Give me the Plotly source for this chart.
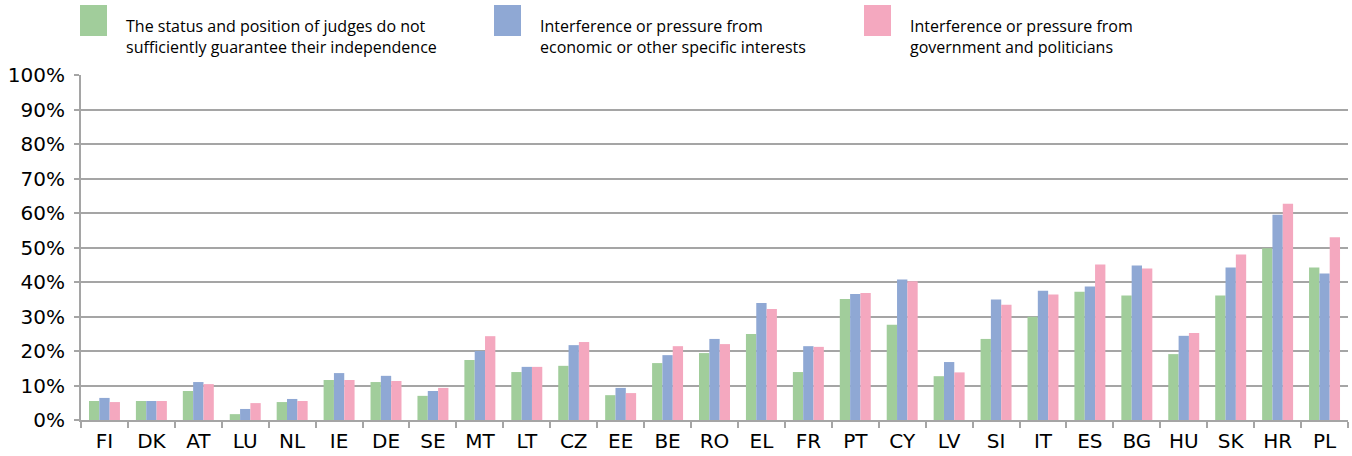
import plotly.graph_objects as go

countries = ["FI","DK","AT","LU","NL","IE","DE","SE","MT","LT","CZ","EE","BE","RO","EL","FR","PT","CY","LV","SI","IT","ES","BG","HU","SK","HR","PL"]
status_judges = [5.5,5.5,8.4,1.7,5.2,11.6,11.0,7.0,17.4,13.9,15.7,7.2,16.5,19.4,24.9,13.9,35.1,27.6,12.7,23.5,29.9,37.2,36.1,19.1,36.1,49.8,44.2]
economic = [6.4,5.5,11.0,3.2,6.1,13.6,12.8,8.4,20.0,15.4,21.7,9.3,18.8,23.5,33.9,21.4,36.5,40.7,16.8,34.9,37.5,38.7,44.8,24.4,44.2,59.5,42.5]
government = [5.2,5.5,10.4,4.9,5.5,11.6,11.3,9.3,24.3,15.4,22.6,7.8,21.4,22.0,32.2,21.2,36.8,40.2,13.8,33.4,36.4,45.1,43.9,25.2,48.0,62.7,53.0]
series_names = [
    "The status and position of judges do not<br>sufficiently guarantee their independence",
    "Interference or pressure from<br>economic or other specific interests",
    "Interference or pressure from<br>government and politicians",
]
colors = ["#A1CD9B", "#8FA8D4", "#F4A8BF"]

fig = go.Figure()
for name, vals, col in zip(series_names, [status_judges, economic, government], colors):
    fig.add_trace(go.Bar(x=countries, y=[v/100 for v in vals], name=name, marker=dict(color=col, line=dict(width=0)), showlegend=False))

# legend drawn manually
leg_x = [80, 494, 864]
L, R, T, B = 81, 1348, 75, 420
for xpx, name, col in zip(leg_x, series_names, colors):
    fig.add_shape(type="rect", xref="paper", yref="paper",
                  x0=(xpx-L)/(R-L), x1=(xpx+27-L)/(R-L),
                  y0=(B-36)/(B-T), y1=(B-5)/(B-T),
                  fillcolor=col, line=dict(width=0))
    fig.add_annotation(xref="paper", yref="paper", x=(xpx+44-L)/(R-L), y=(B-13)/(B-T),
                       xanchor="left", yanchor="top", text=name, showarrow=False, align="left",
                       font=dict(family="Open Sans", size=16, color="#000000"))

fig.update_layout(
    width=1352, height=456,
    margin=dict(l=L, r=1352-R, t=T, b=456-B),
    paper_bgcolor="white", plot_bgcolor="white",
    barmode="group", bargap=0.34, bargroupgap=0,
    font=dict(family="DejaVu Sans", color="#000000"),
)
fig.update_yaxes(range=[0, 1], tickformat=".0%", dtick=0.1, showgrid=True, gridcolor="#A5A5A5", gridwidth=2,
                 showline=True, linecolor="#A5A5A5", linewidth=2, ticks="outside", ticklen=5, tickcolor="#A5A5A5",
                 tickwidth=2, tickfont=dict(family="DejaVu Sans", size=20, color="#000000"),
                 zeroline=False, ticklabelstandoff=5, automargin=False)
fig.update_xaxes(showline=True, linecolor="#A5A5A5", linewidth=2, ticks="outside", tickson="boundaries",
                 ticklen=6, tickcolor="#A5A5A5", tickwidth=2, tickfont=dict(family="DejaVu Sans", size=20, color="#000000"),
                 ticklabelstandoff=2, automargin=False)

fig.write_html("out.html", config={"displayModeBar": False},
               post_script="document.body.style.margin='0px';document.body.style.overflow='hidden';")
